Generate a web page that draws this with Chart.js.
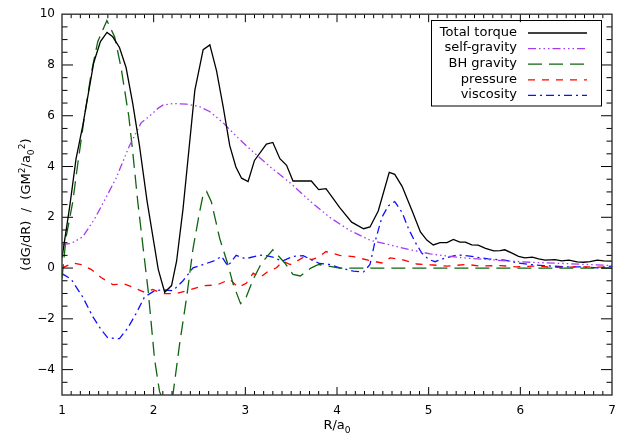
<!DOCTYPE html>
<html>
<head>
<meta charset="utf-8">
<script src="https://cdn.jsdelivr.net/npm/chart.js@4.4.1/dist/chart.umd.min.js"></script>
<style>
  body { margin: 0; background: #fff; }
  canvas { display: block; }
</style>
</head>
<body>
<canvas id="torqueChart" width="627" height="438"></canvas>
<script>
// torque density terms vs radius (R/a0), each term on its own radius samples
const totalR = [1.0, 1.087, 1.153, 1.226, 1.346, 1.419, 1.491, 1.554, 1.627, 1.699, 1.772, 1.845, 1.928,
  2.05, 2.12, 2.195, 2.25, 2.32, 2.449, 2.54, 2.613, 2.686, 2.758, 2.83, 2.897, 2.959, 3.03, 3.10,
  3.23, 3.30, 3.377, 3.45, 3.52, 3.72, 3.80, 3.88, 4.03, 4.16, 4.29, 4.36, 4.45, 4.57, 4.63, 4.71,
  4.82, 4.91, 4.98, 5.05, 5.125, 5.2, 5.27, 5.34, 5.40, 5.47, 5.54, 5.62, 5.71, 5.78, 5.83, 5.91,
  5.98, 6.05, 6.13, 6.20, 6.27, 6.38, 6.45, 6.53, 6.62, 6.69, 6.76, 6.84, 6.91, 7.0];
const totalG = [0.4, 2.5, 4.3, 5.6, 8.09, 8.92, 9.28, 9.11, 8.69, 7.9, 6.48, 4.82, 2.64,
  -0.05, -0.95, -0.69, 0.27, 2.32, 7.0, 8.6, 8.79, 7.77, 6.36, 4.82, 3.98, 3.54, 3.41, 4.24,
  4.88, 4.95, 4.31, 4.05, 3.43, 3.43, 3.09, 3.13, 2.38, 1.81, 1.55, 1.62, 2.25, 3.77, 3.69, 3.22,
  2.25, 1.42, 1.1, 0.91, 1.0, 1.0, 1.13, 1.02, 1.02, 0.91, 0.9, 0.78, 0.68, 0.69, 0.72, 0.59,
  0.46, 0.40, 0.43, 0.36, 0.31, 0.33, 0.28, 0.31, 0.24, 0.23, 0.25, 0.31, 0.28, 0.27];

const selfR = [1.0, 1.1, 1.226, 1.354, 1.46, 1.59, 1.736, 1.863, 1.958, 2.05, 2.10, 2.21, 2.36, 2.50,
  2.61, 2.758, 2.90, 3.05, 3.27, 3.49, 3.705, 3.92, 4.14, 4.36, 4.58, 4.8, 5.015, 5.23, 5.38,
  5.74, 6.1, 6.47, 7.0];
const selfG = [0.93, 0.97, 1.23, 1.93, 2.64, 3.54, 4.82, 5.72, 6.0, 6.3, 6.42, 6.48, 6.46, 6.36,
  6.17, 5.72, 5.2, 4.69, 3.99, 3.35, 2.64, 2.0, 1.48, 1.1, 0.91, 0.72, 0.56, 0.46, 0.40,
  0.31, 0.23, 0.18, 0.10];

const bhR = [1.0, 1.044, 1.117, 1.17, 1.245, 1.317, 1.39, 1.49, 1.575, 1.644, 1.729, 1.772, 1.827,
  1.94, 2.01, 2.064, 2.14, 2.21, 2.285, 2.36, 2.43, 2.50, 2.54, 2.577, 2.63, 2.72, 2.81, 2.867,
  2.948, 3.01, 3.086, 3.16, 3.195, 3.30, 3.43, 3.52, 3.60, 3.72, 3.80, 4.03, 7.0];
const bhG = [-0.4, 1.2, 2.6, 4.05, 5.97, 7.64, 8.92, 9.75, 9.1, 7.9, 5.97, 4.56, 2.6,
  -0.9, -3.6, -4.86, -5.6, -4.99, -2.94, -1.14, 0.78, 2.19, 2.9, 3.02, 2.6, 1.17, 0.14, -0.63,
  -1.4, -1.14, -0.44, 0.08, 0.27, 0.72, 0.2, -0.25, -0.31, 0.01, 0.14, 0.0, 0.0];

const presR = [1.0, 1.117, 1.21, 1.317, 1.426, 1.554, 1.68, 1.79, 1.90, 1.99, 2.10, 2.25, 2.395, 2.54,
  2.686, 2.795, 2.83, 2.92, 3.01, 3.086, 3.16, 3.25, 3.34, 3.41, 3.49, 3.56, 3.65, 3.72, 3.80,
  3.88, 4.03, 4.18, 4.34, 4.49, 4.58, 4.71, 4.87, 5.05, 5.2, 5.42, 5.56, 5.78, 5.96, 6.14, 6.4,
  6.7, 7.0];
const presG = [0.0, 0.2, 0.14, -0.05, -0.37, -0.65, -0.63, -0.78, -0.95, -0.84, -1.01, -1.0, -0.86, -0.69,
  -0.67, -0.5, -0.44, -0.76, -0.6, -0.2, -0.37, -0.12, 0.01, 0.27, 0.14, 0.27, 0.46, 0.33, 0.43,
  0.65, 0.5, 0.45, 0.31, 0.2, 0.4, 0.33, 0.16, 0.12, 0.08, 0.14, 0.08, 0.1, 0.05, 0.08, 0.03,
  0.05, 0.03];

const viscR = [1.0, 1.1, 1.226, 1.335, 1.426, 1.5, 1.627, 1.718, 1.81, 1.90, 2.01, 2.10, 2.21, 2.32,
  2.43, 2.54, 2.65, 2.74, 2.81, 2.90, 3.0, 3.16, 3.195, 3.30, 3.40, 3.52, 3.63, 3.72, 3.81, 3.92,
  4.03, 4.18, 4.29, 4.36, 4.41, 4.49, 4.56, 4.63, 4.71, 4.78, 4.85, 4.925, 5.0, 5.07, 5.18, 5.32,
  5.47, 5.65, 5.83, 5.98, 6.1, 6.25, 6.47, 6.65, 6.84, 7.0];
const viscG = [-0.22, -0.44, -1.14, -1.91, -2.42, -2.75, -2.78, -2.36, -1.78, -1.14, -0.89, -0.86, -0.89, -0.5,
  0.01, 0.14, 0.27, 0.46, 0.08, 0.5, 0.37, 0.5, 0.52, 0.43, 0.27, 0.46, 0.49, 0.33, 0.18, 0.14,
  0.01, -0.12, -0.15, 0.14, 0.97, 2.0, 2.45, 2.62, 2.19, 1.55, 1.04, 0.59, 0.34, 0.25, 0.4, 0.52,
  0.46, 0.36, 0.31, 0.2, 0.14, 0.1, 0.05, 0.05, 0.01, 0.08];

const seriesNames = ['Total torque', 'self-gravity', 'BH gravity', 'pressure', 'viscosity'];
const xTicks = [1, 2, 3, 4, 5, 6, 7];
const yTicks = [-4, -2, 0, 2, 4, 6, 8, 10];

const FONT = '"DejaVu Sans", sans-serif';

const pts = (xs, ys) => xs.map((x, i) => ({ x, y: ys[i] }));

function line(label, xs, ys, color, dash, width) {
  return {
    label,
    data: pts(xs, ys),
    borderColor: color,
    borderDash: dash,
    borderWidth: width,
    pointRadius: 0,
    tension: 0,
    fill: false
  };
}

// IDL-style frame: box on all sides with inward major/minor ticks
const frameTicks = {
  id: 'frameTicks',
  afterDatasetsDraw(chart) {
    const { ctx, chartArea: a, scales: { x, y } } = chart;
    ctx.save();
    ctx.strokeStyle = '#000';
    ctx.lineWidth = 1;
    ctx.beginPath();
    for (let i = 1; i < 60; i++) {
      const px = x.getPixelForValue(1 + i / 10);
      const len = i % 10 === 0 ? 8 : 4;
      ctx.moveTo(px, a.bottom); ctx.lineTo(px, a.bottom - len);
      ctx.moveTo(px, a.top); ctx.lineTo(px, a.top + len);
    }
    for (let i = 1; i < 30; i++) {
      const v = -5 + i * 0.5;
      const py = y.getPixelForValue(v);
      const len = v % 2 === 0 ? 11 : 5.5;
      ctx.moveTo(a.left, py); ctx.lineTo(a.left + len, py);
      ctx.moveTo(a.right, py); ctx.lineTo(a.right - len, py);
    }
    ctx.stroke();
    ctx.strokeStyle = '#333';
    ctx.lineWidth = 1.4;
    ctx.strokeRect(a.left, a.top, a.right - a.left, a.bottom - a.top);
    ctx.restore();
  }
};

// text with super/subscripts: parts = [[text, shift]] shift 1 = sup, -1 = sub
function richWidth(ctx, parts, size) {
  let w = 0;
  parts.forEach(([t, s]) => {
    ctx.font = (s ? size * 0.7 : size) + 'px ' + FONT;
    w += ctx.measureText(t).width;
  });
  return w;
}
function drawRich(ctx, parts, x, y, size) {
  let cx = x;
  parts.forEach(([t, s]) => {
    ctx.font = (s ? size * 0.7 : size) + 'px ' + FONT;
    const dy = s === 1 ? -size * 0.42 : s === -1 ? size * 0.28 : 0;
    ctx.fillText(t, cx, y + dy);
    cx += ctx.measureText(t).width;
  });
}

const axisTitles = {
  id: 'axisTitles',
  afterDraw(chart) {
    const { ctx, chartArea: a } = chart;
    ctx.save();
    ctx.fillStyle = '#000';
    ctx.textBaseline = 'alphabetic';
    ctx.textAlign = 'left';
    const size = 13;
    const xt = [['R/a', 0], ['0', -1]];
    const xw = richWidth(ctx, xt, size);
    drawRich(ctx, xt, (a.left + a.right) / 2 - xw / 2, 429, size);

    const yt = [['(dG/dR)  /  (GM', 0], ['2', 1], ['/a', 0], ['0', -1], ['2', 1], [')', 0]];
    const yw = richWidth(ctx, yt, size);
    ctx.translate(30, (a.top + a.bottom) / 2);
    ctx.rotate(-Math.PI / 2);
    drawRich(ctx, yt, -yw / 2, 0, size);
    ctx.restore();
  }
};

// legend box, text right-aligned with a line sample after it
const boxLegend = {
  id: 'boxLegend',
  afterDraw(chart) {
    const { ctx } = chart;
    ctx.save();
    ctx.strokeStyle = '#000';
    ctx.lineWidth = 1;
    ctx.strokeRect(431.5, 20.5, 170, 85.5);
    ctx.font = '13px ' + FONT;
    ctx.textAlign = 'right';
    ctx.textBaseline = 'middle';
    chart.data.datasets.forEach((ds, i) => {
      const yy = 32.5 + i * 15.6;
      ctx.fillStyle = '#000';
      ctx.fillText(ds.label, 517, yy);
      ctx.strokeStyle = ds.borderColor;
      ctx.lineWidth = ds.borderWidth;
      ctx.setLineDash(ds.borderDash || []);
      ctx.beginPath();
      ctx.moveTo(528, yy + 0.5);
      ctx.lineTo(587, yy + 0.5);
      ctx.stroke();
    });
    ctx.restore();
  }
};

const minus = v => String(v).replace('-', '\u2212');

new Chart(document.getElementById('torqueChart'), {
  type: 'line',
  data: {
    datasets: [
      line(seriesNames[0], totalR, totalG, '#000000', [], 1.3),
      line(seriesNames[1], selfR, selfG, '#a63cf2', [8, 3, 1.5, 3, 1.5, 3, 1.5, 3], 1.3),
      line(seriesNames[2], bhR, bhG, '#0f640f', [14, 7], 1.3),
      line(seriesNames[3], presR, presG, '#ff0000', [7, 7], 1.3),
      line(seriesNames[4], viscR, viscG, '#1010ff', [8, 4, 2, 4], 1.3)
    ]
  },
  options: {
    responsive: false,
    animation: false,
    devicePixelRatio: 1,
    layout: { padding: { top: 5, right: 15, left: 0, bottom: 0 } },
    plugins: { legend: { display: false }, tooltip: { enabled: false } },
    scales: {
      x: {
        type: 'linear',
        min: 1, max: 7,
        grid: { display: false, drawTicks: false },
        border: { display: false },
        afterBuildTicks: s => { s.ticks = xTicks.map(v => ({ value: v })); },
        afterFit: s => { s.height = 43; },
        ticks: { color: '#000', font: { family: FONT, size: 12 }, padding: 9, maxRotation: 0, callback: v => minus(v) }
      },
      y: {
        type: 'linear',
        min: -5, max: 10,
        grid: { display: false, drawTicks: false },
        border: { display: false },
        afterBuildTicks: s => { s.ticks = yTicks.map(v => ({ value: v })); },
        afterFit: s => { s.width = 62; },
        ticks: { color: '#000', font: { family: FONT, size: 12 }, padding: 7, callback: v => minus(v) }
      }
    }
  },
  plugins: [frameTicks, axisTitles, boxLegend]
});
</script>
</body>
</html>
